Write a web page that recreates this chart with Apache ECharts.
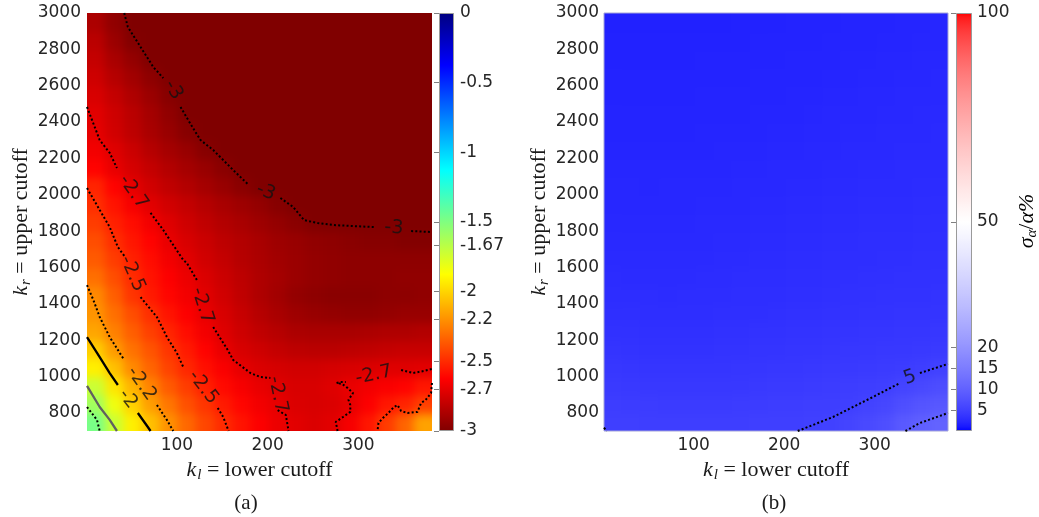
<!DOCTYPE html>
<html>
<head>
<meta charset="utf-8">
<script src="https://cdn.jsdelivr.net/npm/echarts@6/dist/echarts.min.js"></script>
<style>
  html, body { margin: 0; padding: 0; background: #fff; }
  #stage { position: relative; width: 1039px; height: 517px; overflow: hidden; }
  .clip { position: absolute; overflow: hidden; }
  .field { position: absolute; left: -24px; top: -24px; right: -24px; bottom: -24px; filter: blur(5px); }
  #main { position: absolute; left: 0; top: 0; width: 1039px; height: 517px; }
</style>
</head>
<body>
<div id="stage">
  <div class="clip" style="left:87px;top:13px;width:345px;height:418px"><div id="fieldA" class="field"></div></div>
  <div class="clip" style="left:604px;top:13px;width:344px;height:418px"><div id="fieldB" class="field"></div></div>
  <div id="main"></div>
</div>
<script>
// ---- sampling grid of cut-off pairs (cell centres) ----
const KL_CELLS = [11, 31, 51, 71, 91, 111, 131, 151, 171, 191, 211, 231, 251, 271, 291, 311, 331, 351, 371];
const KR_CELLS = [750, 850, 950, 1050, 1150, 1250, 1350, 1450, 1550, 1650, 1750, 1850, 1950, 2050, 2150, 2250, 2350, 2450, 2550, 2650, 2750, 2850, 2950];
const KL_STEP = 20;
const KR_STEP = 100;
const KL_RANGE = [1, 381];
const KR_RANGE = [700, 3000];

// ---- axis tick labels ----
const KL_TICKS = [100, 200, 300];
const KR_TICKS = [800, 1000, 1200, 1400, 1600, 1800, 2000, 2200, 2400, 2600, 2800, 3000];
const CBAR_A_TICKS = [0, -0.5, -1, -1.5, -1.67, -2, -2.2, -2.5, -2.7, -3];
const CBAR_B_TICKS = [5, 10, 15, 20, 50, 100];

// ---- panel (a): log error, one row per k_r cell (bottom row first) ----
const FIELD_A = [
  [-1.48,-1.72,-1.92,-2.06,-2.20,-2.32,-2.42,-2.50,-2.57,-2.63,-2.68,-2.71,-2.73,-2.71,-2.65,-2.56,-2.45,-2.33,-2.15],
  [-1.60,-1.83,-2.01,-2.16,-2.28,-2.39,-2.47,-2.55,-2.61,-2.66,-2.70,-2.73,-2.74,-2.73,-2.70,-2.63,-2.56,-2.52,-2.44],
  [-1.72,-1.95,-2.10,-2.24,-2.36,-2.45,-2.53,-2.60,-2.65,-2.69,-2.72,-2.74,-2.74,-2.72,-2.69,-2.66,-2.64,-2.62,-2.56],
  [-1.92,-2.06,-2.22,-2.33,-2.43,-2.51,-2.58,-2.64,-2.70,-2.73,-2.75,-2.76,-2.76,-2.75,-2.74,-2.73,-2.72,-2.72,-2.71],
  [-2.02,-2.17,-2.29,-2.38,-2.47,-2.55,-2.62,-2.69,-2.74,-2.77,-2.80,-2.82,-2.83,-2.83,-2.82,-2.81,-2.80,-2.79,-2.79],
  [-2.14,-2.25,-2.35,-2.44,-2.52,-2.59,-2.66,-2.72,-2.77,-2.81,-2.84,-2.87,-2.88,-2.88,-2.88,-2.87,-2.86,-2.86,-2.85],
  [-2.19,-2.30,-2.40,-2.49,-2.57,-2.63,-2.69,-2.74,-2.79,-2.84,-2.88,-2.91,-2.93,-2.94,-2.95,-2.95,-2.94,-2.93,-2.93],
  [-2.22,-2.35,-2.47,-2.55,-2.61,-2.66,-2.71,-2.76,-2.81,-2.86,-2.90,-2.94,-2.96,-2.97,-2.97,-2.97,-2.96,-2.96,-2.95],
  [-2.30,-2.40,-2.50,-2.57,-2.63,-2.68,-2.73,-2.78,-2.82,-2.86,-2.89,-2.92,-2.94,-2.95,-2.96,-2.96,-2.96,-2.95,-2.95],
  [-2.36,-2.45,-2.53,-2.59,-2.66,-2.71,-2.76,-2.80,-2.84,-2.87,-2.90,-2.92,-2.94,-2.95,-2.96,-2.96,-2.96,-2.96,-2.96],
  [-2.40,-2.49,-2.56,-2.62,-2.69,-2.74,-2.78,-2.82,-2.85,-2.88,-2.91,-2.93,-2.95,-2.96,-2.97,-2.98,-2.98,-2.99,-2.99],
  [-2.45,-2.53,-2.59,-2.66,-2.72,-2.77,-2.81,-2.85,-2.88,-2.91,-2.94,-2.97,-3.00,-3.00,-3.00,-3.00,-3.00,-3.00,-3.00],
  [-2.49,-2.57,-2.65,-2.71,-2.76,-2.80,-2.84,-2.88,-2.91,-2.94,-2.98,-3.00,-3.00,-3.00,-3.00,-3.00,-3.00,-3.00,-3.00],
  [-2.52,-2.62,-2.70,-2.76,-2.81,-2.85,-2.89,-2.93,-2.97,-3.00,-3.00,-3.00,-3.00,-3.00,-3.00,-3.00,-3.00,-3.00,-3.00],
  [-2.62,-2.69,-2.75,-2.80,-2.85,-2.89,-2.93,-2.97,-3.00,-3.00,-3.00,-3.00,-3.00,-3.00,-3.00,-3.00,-3.00,-3.00,-3.00],
  [-2.66,-2.72,-2.78,-2.84,-2.89,-2.93,-2.98,-3.00,-3.00,-3.00,-3.00,-3.00,-3.00,-3.00,-3.00,-3.00,-3.00,-3.00,-3.00],
  [-2.70,-2.76,-2.82,-2.88,-2.93,-2.98,-3.00,-3.00,-3.00,-3.00,-3.00,-3.00,-3.00,-3.00,-3.00,-3.00,-3.00,-3.00,-3.00],
  [-2.71,-2.77,-2.83,-2.89,-2.95,-3.00,-3.00,-3.00,-3.00,-3.00,-3.00,-3.00,-3.00,-3.00,-3.00,-3.00,-3.00,-3.00,-3.00],
  [-2.74,-2.80,-2.86,-2.92,-2.98,-3.00,-3.00,-3.00,-3.00,-3.00,-3.00,-3.00,-3.00,-3.00,-3.00,-3.00,-3.00,-3.00,-3.00],
  [-2.77,-2.84,-2.90,-2.96,-3.00,-3.00,-3.00,-3.00,-3.00,-3.00,-3.00,-3.00,-3.00,-3.00,-3.00,-3.00,-3.00,-3.00,-3.00],
  [-2.80,-2.88,-2.94,-3.00,-3.00,-3.00,-3.00,-3.00,-3.00,-3.00,-3.00,-3.00,-3.00,-3.00,-3.00,-3.00,-3.00,-3.00,-3.00],
  [-2.83,-2.92,-2.99,-3.00,-3.00,-3.00,-3.00,-3.00,-3.00,-3.00,-3.00,-3.00,-3.00,-3.00,-3.00,-3.00,-3.00,-3.00,-3.00],
  [-2.87,-2.95,-3.00,-3.00,-3.00,-3.00,-3.00,-3.00,-3.00,-3.00,-3.00,-3.00,-3.00,-3.00,-3.00,-3.00,-3.00,-3.00,-3.00]
];

// ---- panel (b): relative spread in percent (bottom row first) ----
const FIELD_B = [
  [4.87,4.82,4.78,4.75,4.73,4.73,4.76,4.79,4.82,4.85,4.88,4.95,5.20,5.60,6.30,7.00,8.60,9.60,10.4],
  [4.57,4.52,4.45,4.40,4.37,4.37,4.40,4.46,4.53,4.58,4.63,4.69,4.78,4.90,5.30,5.80,7.00,7.80,8.40],
  [4.21,4.13,4.06,4.01,3.98,3.97,4.00,4.06,4.14,4.22,4.30,4.40,4.50,4.58,4.69,4.90,5.50,6.20,6.80],
  [3.84,3.77,3.70,3.65,3.64,3.66,3.71,3.76,3.82,3.88,3.93,3.99,4.08,4.17,4.27,4.40,4.56,4.79,5.20],
  [3.50,3.44,3.38,3.35,3.35,3.38,3.43,3.49,3.55,3.61,3.66,3.72,3.79,3.85,3.90,3.96,4.03,4.09,4.30],
  [3.24,3.18,3.12,3.09,3.10,3.14,3.19,3.24,3.30,3.36,3.41,3.47,3.53,3.59,3.65,3.71,3.76,3.81,3.86],
  [2.99,2.95,2.91,2.89,2.91,2.94,2.97,3.00,3.05,3.12,3.20,3.26,3.32,3.38,3.43,3.47,3.51,3.56,3.61],
  [2.83,2.79,2.75,2.74,2.76,2.80,2.84,2.88,2.91,2.94,2.99,3.05,3.12,3.19,3.25,3.30,3.34,3.38,3.42],
  [2.66,2.63,2.60,2.58,2.61,2.66,2.71,2.75,2.79,2.83,2.88,2.92,2.96,3.00,3.06,3.12,3.18,3.22,3.27],
  [2.50,2.48,2.47,2.46,2.48,2.51,2.58,2.63,2.67,2.72,2.77,2.82,2.86,2.90,2.94,2.97,3.01,3.06,3.12],
  [2.41,2.40,2.39,2.38,2.40,2.43,2.47,2.50,2.56,2.61,2.66,2.71,2.76,2.81,2.85,2.88,2.91,2.95,2.98],
  [2.33,2.32,2.30,2.30,2.32,2.35,2.38,2.42,2.46,2.50,2.55,2.61,2.66,2.71,2.75,2.78,2.82,2.85,2.89],
  [2.24,2.23,2.22,2.23,2.24,2.27,2.30,2.33,2.38,2.42,2.46,2.50,2.56,2.61,2.66,2.69,2.73,2.76,2.80],
  [2.16,2.15,2.14,2.15,2.16,2.19,2.22,2.25,2.29,2.33,2.38,2.42,2.47,2.51,2.57,2.60,2.64,2.67,2.71],
  [2.07,2.07,2.06,2.07,2.09,2.11,2.13,2.17,2.21,2.25,2.29,2.34,2.39,2.43,2.48,2.51,2.55,2.58,2.61],
  [1.99,1.99,1.99,2.00,2.01,2.03,2.05,2.08,2.13,2.16,2.21,2.25,2.31,2.35,2.40,2.43,2.46,2.49,2.52],
  [1.95,1.95,1.95,1.95,1.96,1.97,1.98,2.00,2.04,2.08,2.13,2.17,2.23,2.27,2.32,2.36,2.39,2.43,2.45],
  [1.91,1.91,1.91,1.91,1.92,1.93,1.94,1.96,1.98,2.00,2.04,2.09,2.15,2.19,2.24,2.28,2.32,2.36,2.38],
  [1.87,1.87,1.86,1.87,1.88,1.89,1.90,1.92,1.94,1.96,1.98,2.01,2.06,2.11,2.16,2.21,2.25,2.29,2.32],
  [1.83,1.82,1.82,1.83,1.84,1.85,1.86,1.88,1.90,1.91,1.94,1.96,1.99,2.04,2.09,2.13,2.18,2.22,2.25],
  [1.78,1.78,1.78,1.79,1.80,1.81,1.82,1.83,1.85,1.87,1.90,1.92,1.95,1.98,2.01,2.06,2.11,2.15,2.19],
  [1.74,1.74,1.74,1.75,1.75,1.76,1.78,1.79,1.81,1.83,1.85,1.88,1.91,1.94,1.96,1.99,2.04,2.08,2.12],
  [1.70,1.70,1.70,1.70,1.71,1.72,1.73,1.75,1.77,1.79,1.81,1.84,1.87,1.89,1.92,1.95,1.98,2.02,2.06]
];

// ---- iso-lines of panel (a), pieces broken where the level is written ----
const ISO_A_M3 = [
  [[42,3000],[46,2923],[60,2813],[74,2703],[85,2642]],
  [[104,2483],[117,2373],[126,2301],[140,2246],[151,2191],[162,2136],[179,2054]],
  [[214,1982],[228,1933],[240,1861],[255,1844],[273,1833],[317,1822]],
  [[358,1800],[381,1795]]
];
const ISO_A_M27 = [
  [[1,2483],[15,2301],[26,2230],[34,2147]],
  [[71,1900],[85,1806],[107,1641],[111,1624],[122,1531]],
  [[140,1272],[156,1146],[162,1091],[181,1019],[192,997],[203,992]],
  [[211,815],[220,788],[223,700]],
  [[277,700],[275,750],[283,777],[291,805],[291,843],[289,871],[294,909],[288,937],[282,959],[276,964],[280,970],[286,970]],
  [[347,1036],[360,1019],[372,1030],[381,1041]]
];
const ISO_A_M25 = [
  [[1,2037],[15,1916],[26,1822],[35,1712],[43,1657]],
  [[60,1437],[78,1327],[89,1217],[100,1129],[107,1052]],
  [[145,827],[151,777],[157,700]],
  [[381,964],[380,909],[374,871],[369,854],[365,805],[354,799],[347,810],[343,843],[339,832],[333,799],[327,772],[322,744],[321,700]]
];
const ISO_A_M22 = [
  [[1,1503],[8,1421],[15,1327],[26,1217],[42,1091]],
  [[78,843],[89,761],[96,700]]
];
const ISO_A_M2 = [
  [[1,1217],[15,1107],[26,1019],[35,953]],
  [[57,799],[68,722],[71,700]]
];
const ISO_A_M167 = [[[1,948],[15,832],[26,761],[34,700]]];
const ISO_A_M15 = [[[1,832],[12,761],[15,700]]];
const ISO_A_TEXT = [
  [96,2576,'-3'], [198,2015,'-3'], [339,1817,'-3'],
  [52,2015,'-2.7'], [128,1390,'-2.7'], [211,900,'-2.7'], [317,1008,'-2.7'],
  [51,1565,'-2.5'], [129,940,'-2.5'],
  [61,960,'-2.2'],
  [46,876,'-2']
];
const ISO_A_ANGLE = [-60, -22, -4, -55, -72, -78, 12, -66, -52, -55, -52];

// ---- iso-lines of panel (b) ----
const ISO_B_5 = [
  [[1,718],[4,700]],
  [[215,700],[254,777],[298,887],[328,964]],
  [[350,1019],[381,1069]]
];
const ISO_B_10 = [[[334,700],[350,744],[381,799]]];
const ISO_B_TEXT = [[339,994,'5']];
const ISO_B_ANGLE = [20];

// ---- colour maps ----
// jet, listed from the low end (-3) to the high end (0)
const JET = ['#800000','#ff0000','#ff8000','#ffff00','#80ff80','#00ffff','#0080ff','#0000ff','#000080'];
// blue - white - red with a softened ramp towards white
function bwrColor(v) {
  if (v <= 50) {
    const c = Math.round(255 * Math.pow(v / 50, 0.6));
    return 'rgb(' + c + ',' + c + ',255)';
  }
  const c = Math.round(255 * Math.pow((100 - v) / 50, 0.6));
  return 'rgb(255,' + c + ',' + c + ')';
}
const BWR = [];
for (let i = 0; i <= 100; i++) BWR.push(bwrColor(i));

const PAD = 24;
const TICK_FONT = { fontFamily: 'DejaVu Sans', fontSize: 17, color: '#262626' };
const SERIF = 'Liberation Serif';
const INK = '#1a1a1a';
const plainNumber = v => String(v);

// ---- shaded fields: one cell per grid sample, softened by the CSS blur ----
function renderCell(params, api) {
  const kl = api.value(0), kr = api.value(1);
  const lo = api.coord([kl - KL_STEP / 2, kr - KR_STEP / 2]);
  const hi = api.coord([kl + KL_STEP / 2, kr + KR_STEP / 2]);
  let x0 = lo[0], x1 = hi[0], y0 = hi[1], y1 = lo[1];
  // border cells run on past the frame so the softening keeps full colour at the edges
  if (kl - KL_STEP / 2 <= KL_RANGE[0]) x0 -= PAD;
  if (kl + KL_STEP / 2 >= KL_RANGE[1]) x1 += PAD;
  if (kr - KR_STEP / 2 <= KR_RANGE[0]) y1 += PAD;
  if (kr + KR_STEP / 2 >= KR_RANGE[1]) y0 -= PAD;
  return {
    type: 'rect',
    shape: { x: x0, y: y0, width: x1 - x0 + 1, height: y1 - y0 + 1 },
    style: { fill: api.visual('color') }
  };
}

function fieldOption(values, colors, min, max) {
  const data = [];
  values.forEach((row, j) => row.forEach((v, i) => data.push([KL_CELLS[i], KR_CELLS[j], v])));
  return {
    animation: false,
    grid: { left: PAD, right: PAD, top: PAD, bottom: PAD },
    xAxis: { type: 'value', min: KL_RANGE[0], max: KL_RANGE[1], show: false },
    yAxis: { type: 'value', min: KR_RANGE[0], max: KR_RANGE[1], show: false },
    visualMap: { type: 'continuous', show: false, dimension: 2, seriesIndex: 0, min: min, max: max, inRange: { color: colors } },
    series: [{ type: 'custom', data: data, clip: false, silent: true, encode: { x: 0, y: 1 }, renderItem: renderCell }]
  };
}

echarts.init(document.getElementById('fieldA')).setOption(fieldOption(FIELD_A, JET, -3, 0));
echarts.init(document.getElementById('fieldB')).setOption(fieldOption(FIELD_B, BWR, 0, 100));

// ---- axes, colour bars, iso-lines and captions ----
const nameRich = {
  i: { fontFamily: SERIF, fontStyle: 'italic', fontSize: 22, color: INK },
  s: { fontFamily: SERIF, fontStyle: 'italic', fontSize: 15, color: INK, padding: [10, 0, 0, 1] },
  t: { fontFamily: SERIF, fontSize: 22, color: INK }
};

function plotXAxis(grid, margin) {
  return {
    gridIndex: grid, type: 'value', min: KL_RANGE[0], max: KL_RANGE[1],
    name: '{i|k}{s|l}{t| = lower cutoff}', nameLocation: 'middle', nameGap: 25,
    nameTextStyle: { rich: nameRich },
    axisLine: { show: false }, axisTick: { show: false }, splitLine: { show: false },
    axisLabel: Object.assign({ margin: margin, customValues: KL_TICKS, formatter: plainNumber }, TICK_FONT)
  };
}
function plotYAxis(grid, margin) {
  return {
    gridIndex: grid, type: 'value', min: KR_RANGE[0], max: KR_RANGE[1],
    name: '{i|k}{s|r}{t| = upper cutoff}', nameLocation: 'middle', nameRotate: 90, nameGap: 44,
    nameTextStyle: { rich: nameRich },
    axisLine: { show: false }, axisTick: { show: false }, splitLine: { show: false },
    axisLabel: Object.assign({ margin: margin, customValues: KR_TICKS, formatter: plainNumber }, TICK_FONT)
  };
}
function barYAxis(grid, min, max, ticks, margin) {
  return {
    gridIndex: grid, type: 'value', min: min, max: max, position: 'right',
    axisLine: { show: false }, splitLine: { show: false },
    axisTick: { show: true, inside: true, length: 5, lineStyle: { color: '#808080', width: 1 }, customValues: ticks },
    axisLabel: Object.assign({ margin: margin, customValues: ticks, formatter: plainNumber }, TICK_FONT)
  };
}
function barSeries(grid, min, max, colors) {
  const stops = colors.slice().reverse().map((c, i, a) => ({ offset: i / (a.length - 1), color: c }));
  return {
    type: 'custom', xAxisIndex: grid, yAxisIndex: grid, data: [[0, max]], clip: false, silent: true,
    renderItem: function (params, api) {
      const tl = api.coord([0, max]);
      const br = api.coord([1, min]);
      return {
        type: 'rect',
        shape: { x: tl[0] + 0.5, y: tl[1] + 0.5, width: br[0] - tl[0] - 1, height: br[1] - tl[1] - 1 },
        style: { fill: { type: 'linear', x: 0, y: 0, x2: 0, y2: 1, colorStops: stops }, stroke: '#9a9a9a', lineWidth: 1 }
      };
    }
  };
}

const DOT = { color: '#000', width: 2, type: [2, 2.2] };
const SOLID = { color: '#000', width: 2.3, type: 'solid' };
const GREY = { color: '#606060', width: 2.3, type: 'solid' };

function isoSeries(grid, pieces, style) {
  return pieces.map(p => ({
    type: 'line', xAxisIndex: grid, yAxisIndex: grid, data: p, symbol: 'none',
    lineStyle: style, silent: true, z: 5, animation: false
  }));
}
function isoText(grid, items, angles) {
  return {
    type: 'scatter', xAxisIndex: grid, yAxisIndex: grid, symbolSize: 0.01, silent: true, z: 6,
    itemStyle: { color: 'rgba(0,0,0,0)' },
    data: items.map((t, k) => ({ name: t[2], value: [t[0], t[1]], label: { rotate: angles[k] } })),
    label: { show: true, position: 'inside', formatter: '{b}', fontFamily: 'DejaVu Sans', fontSize: 19, color: '#111' }
  };
}

const option = {
  animation: false,
  grid: [
    { left: 87, top: 13, width: 345, height: 418 },
    { left: 439, top: 13, width: 15, height: 418 },
    { left: 604, top: 13, width: 344, height: 418, show: true, borderColor: '#a4a4d8', borderWidth: 1 },
    { left: 956, top: 13, width: 16, height: 418 }
  ],
  xAxis: [
    plotXAxis(0, 6),
    { gridIndex: 1, type: 'value', min: 0, max: 1, show: false },
    plotXAxis(2, 6),
    { gridIndex: 3, type: 'value', min: 0, max: 1, show: false }
  ],
  yAxis: [
    plotYAxis(0, 6),
    barYAxis(1, -3, 0, CBAR_A_TICKS, 6),
    plotYAxis(2, 5),
    barYAxis(3, 0, 100, CBAR_B_TICKS, 5)
  ],
  series: [].concat(
    [barSeries(1, -3, 0, JET), barSeries(3, 0, 100, BWR)],
    isoSeries(0, ISO_A_M3, DOT),
    isoSeries(0, ISO_A_M27, DOT),
    isoSeries(0, ISO_A_M25, DOT),
    isoSeries(0, ISO_A_M22, DOT),
    isoSeries(0, ISO_A_M2, SOLID),
    isoSeries(0, ISO_A_M167, GREY),
    isoSeries(0, ISO_A_M15, DOT),
    [isoText(0, ISO_A_TEXT, ISO_A_ANGLE)],
    isoSeries(2, ISO_B_5, DOT),
    isoSeries(2, ISO_B_10, DOT),
    [isoText(2, ISO_B_TEXT, ISO_B_ANGLE)]
  ),
  graphic: [
    { type: 'text', x: 246, y: 503, style: { text: '(a)', font: '21px "Liberation Serif"', fill: INK, align: 'center', verticalAlign: 'middle' } },
    { type: 'text', x: 774, y: 503, style: { text: '(b)', font: '21px "Liberation Serif"', fill: INK, align: 'center', verticalAlign: 'middle' } },
    {
      type: 'text', x: 1027, y: 221, rotation: Math.PI / 2,
      style: {
        text: '{s|σ}{a|α}{t|/}{s|α}{s|%}', align: 'center', verticalAlign: 'middle',
        rich: {
          s: { fontFamily: SERIF, fontStyle: 'italic', fontSize: 22, color: INK },
          a: { fontFamily: SERIF, fontStyle: 'italic', fontSize: 15, color: INK, padding: [10, 0, 0, 0] },
          t: { fontFamily: SERIF, fontSize: 22, color: INK }
        }
      }
    }
  ]
};

echarts.init(document.getElementById('main')).setOption(option);
</script>
</body>
</html>
